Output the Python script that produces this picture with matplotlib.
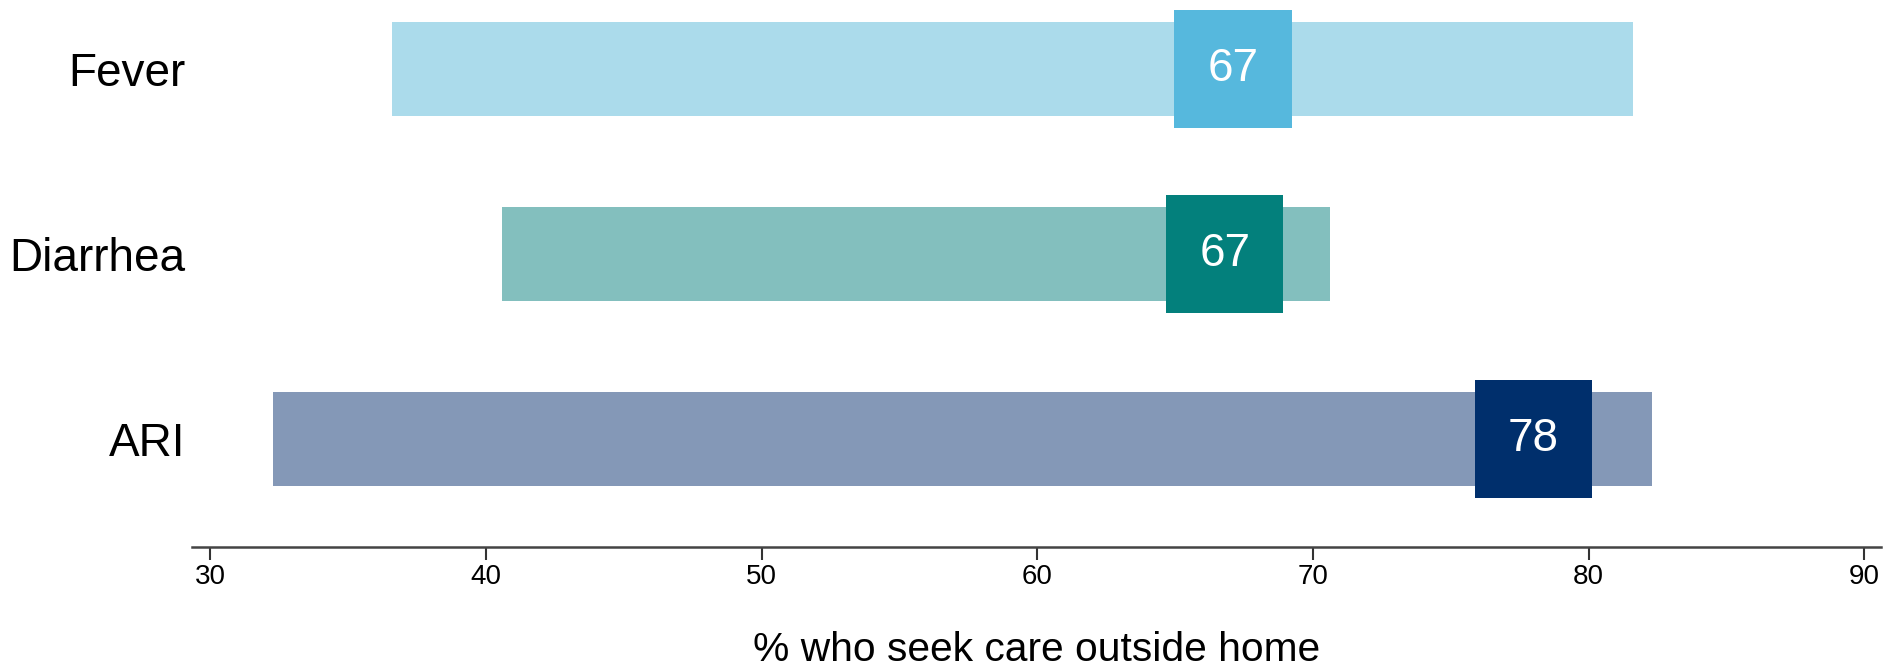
import numpy as np
import matplotlib.pyplot as plt

plt.rcParams['font.family'] = ['Liberation Sans', 'DejaVu Sans']

# data, top to bottom
categories = ["Fever", "Diarrhea", "ARI"]
range_low = [36.6, 40.6, 32.3]
range_high = [81.6, 70.6, 82.3]
point_value = [67.1, 66.8, 78.0]

bar_colors = ["#abdbeb", "#83bfbe", "#8498b7"]
box_colors = ["#56b8dd", "#03807c", "#002f6c"]

fig = plt.figure(figsize=(18.85, 6.72), dpi=100)
ax = fig.add_axes([0.1019, 0.186, 0.896, 0.814])

ypos = np.arange(len(categories))[::-1]
box_w = 4.26  # width of the value square in x units

for i in range(len(categories)):
    y = ypos[i]
    ax.barh(y, range_high[i] - range_low[i], left=range_low[i], height=0.51,
            color=bar_colors[i], edgecolor='none')
    ax.barh(y, box_w, left=point_value[i] - box_w / 2, height=0.64,
            color=box_colors[i], edgecolor='none')
    ax.text(point_value[i], y, f"{round(point_value[i])}", color='white',
            fontsize=33, ha='center', va='center')

ax.set_xlim(29.35, 90.6)
ax.set_ylim(-0.585, 2.373)
ax.set_xticks([30, 40, 50, 60, 70, 80, 90])
ax.set_yticks(ypos)
ax.set_yticklabels(categories, fontsize=33)
ax.tick_params(axis='y', length=0, pad=5)
ax.tick_params(axis='x', length=9, width=1.5, color='#333333', labelsize=20, pad=3)

for s in ['top', 'right', 'left']:
    ax.spines[s].set_visible(False)
ax.spines['bottom'].set_linewidth(1.8)
ax.spines['bottom'].set_color('#444444')

ax.set_xlabel("% who seek care outside home", fontsize=29.3, labelpad=30)

fig.savefig("out.png", dpi=100)
